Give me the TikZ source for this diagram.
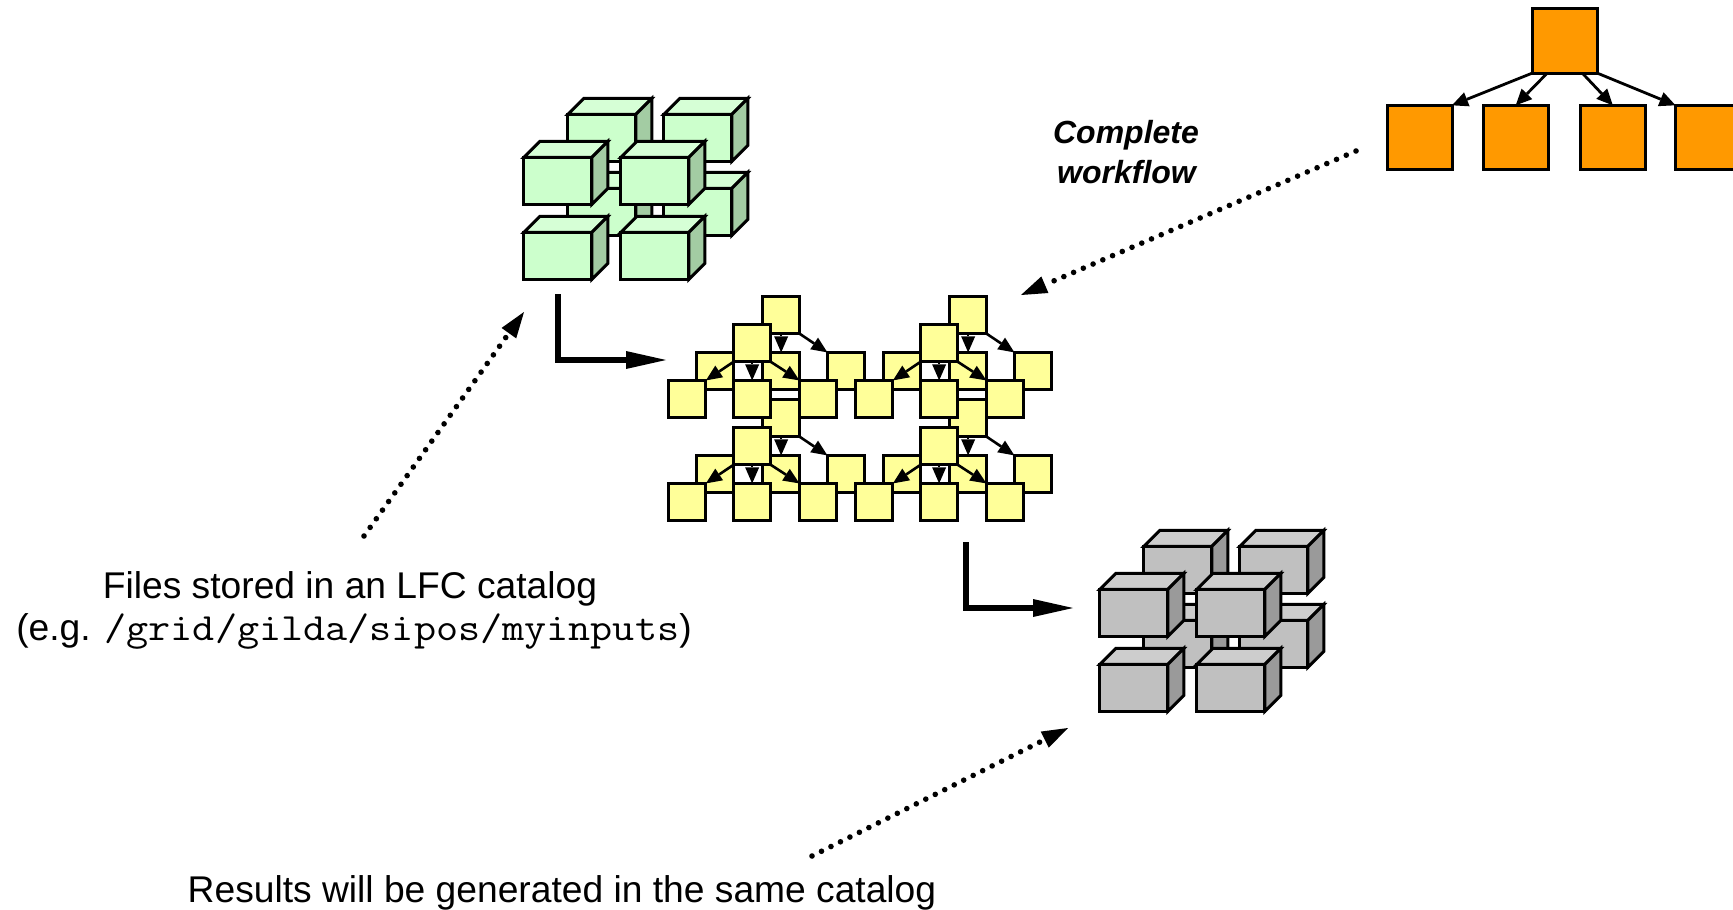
\documentclass[tikz,border=0pt]{standalone}
\usepackage{fontspec}
\usepackage{graphicx}
\setmainfont{Liberation Sans}
\usetikzlibrary{arrows.meta,calc}
\definecolor{gface}{HTML}{CCFFCC}\definecolor{gtop}{HTML}{D6FFD6}\definecolor{gside}{HTML}{A3CCA3}
\definecolor{kface}{HTML}{C0C0C0}\definecolor{ktop}{HTML}{CDCDCD}\definecolor{kside}{HTML}{9A9A9A}
\definecolor{yfill}{HTML}{FFFF99}\definecolor{ofill}{HTML}{FF9900}
\tikzset{
  x=1pt,y=-1pt,
  box/.style={draw=black,line width=3pt,inner sep=0pt,outer sep=0pt,anchor=north west,line join=miter},
  ysq/.style={box,fill=yfill,minimum width=37.5pt,minimum height=37.5pt},
  osq/.style={box,fill=ofill,minimum width=64.5pt,minimum height=64.5pt},
  cubeface/.style={box,minimum width=68pt,minimum height=47pt},
  facet/.style={draw=black,line width=3pt,line join=miter},
  yarrow/.style={line width=2.6pt,-{Triangle[length=16pt,width=14pt,line width=0pt]}},
  oarrow/.style={line width=2.8pt,-{Triangle[length=16pt,width=15pt,line width=0pt]}},
  heavy/.style={line width=6pt,line join=miter,-{Triangle[length=40pt,width=18pt,line width=0pt]}},
  dotted arrow/.style={line width=5.6pt,line cap=round,dash pattern=on 0pt off 10.6pt,-{Triangle[length=26pt,width=18pt,line width=0pt,round=false]}},
  txt/.style={inner sep=0pt,anchor=base,font=\fontsize{37.2}{40}\selectfont},
  btxt/.style={inner sep=0pt,anchor=base,font=\fontsize{32}{36}\selectfont\bfseries\itshape}
}
% #1 name, #2 x, #3 y, #4 face, #5 top, #6 side
\newcommand{\cubebox}[6]{%
  \path[facet,fill=#5] (#2,#3) -- ++(16,-16) -- ++(68,0) -- ++(-16,16) -- cycle;
  \path[facet,fill=#6] (#2+68,#3) -- ++(16,-16) -- ++(0,47) -- ++(-16,16) -- cycle;
  \node[cubeface,fill=#4] (#1) at (#2,#3) {};
}
\newcommand{\cubegroup}[6]{% #1 prefix #2 x #3 y, colours
  \cubebox{#1a}{#2+44}{#3-43}{#4}{#5}{#6}
  \cubebox{#1b}{#2+140}{#3-43}{#4}{#5}{#6}
  \cubebox{#1c}{#2+44}{#3+31}{#4}{#5}{#6}
  \cubebox{#1d}{#2+140}{#3+31}{#4}{#5}{#6}
  \cubebox{#1e}{#2}{#3}{#4}{#5}{#6}
  \cubebox{#1f}{#2+97}{#3}{#4}{#5}{#6}
  \cubebox{#1g}{#2}{#3+75}{#4}{#5}{#6}
  \cubebox{#1h}{#2+97}{#3+75}{#4}{#5}{#6}
}
\newcommand{\yback}[3]{%
  \node[ysq] (#1t) at (#2+94,#3) {};
  \node[ysq] (#1l) at (#2+28,#3+56) {};
  \node[ysq] (#1c) at (#2+94,#3+56) {};
  \node[ysq] (#1r) at (#2+159,#3+56) {};
  \draw[yarrow] (#1t.south) -- (#1c.north);
  \draw[yarrow] (#1t.south east) -- (#1r.north west);
}
\newcommand{\yfront}[3]{%
  \node[ysq] (#1T) at (#2+65,#3+28) {};
  \node[ysq] (#1L) at (#2,#3+84) {};
  \node[ysq] (#1C) at (#2+65,#3+84) {};
  \node[ysq] (#1R) at (#2+131,#3+84) {};
  \draw[yarrow] (#1T.south west) -- (#1L.north east);
  \draw[yarrow] (#1T.south) -- (#1C.north);
  \draw[yarrow] (#1T.south east) -- (#1R.north west);
}
\begin{document}
\begin{tikzpicture}
\useasboundingbox (0,0) rectangle (1733,910);
\clip (0,0) rectangle (1733,910);
% orange workflow
\node[osq] (otop) at (1532.5,8.5) {};
\node[osq] (o1) at (1387.5,105.3) {};
\node[osq] (o2) at (1483.5,105.3) {};
\node[osq] (o3) at (1580.5,105.3) {};
\node[osq] (o4) at (1675.5,105.3) {};
\draw[oarrow] (otop.south west) -- (o1.north east);
\draw[oarrow] ($(otop.south west)!0.23!(otop.south east)$) -- (o2.north);
\draw[oarrow] ($(otop.south west)!0.77!(otop.south east)$) -- (o3.north);
\draw[oarrow] (otop.south east) -- (o4.north west);
% cubes
\cubegroup{g}{523.8}{157.4}{gface}{gtop}{gside}
\cubegroup{k}{1099.8}{589.4}{kface}{ktop}{kside}
% yellow
\yback{ua}{668.4}{296.4}\yback{ub}{855.4}{296.4}\yback{uc}{668.4}{399.4}\yback{ud}{855.4}{399.4}
\yfront{ua}{668.4}{296.4}\yfront{ub}{855.4}{296.4}\yfront{uc}{668.4}{399.4}\yfront{ud}{855.4}{399.4}
% heavy arrows
\coordinate (h1s) at (558,294); \coordinate (h1e) at (666,360);
\coordinate (h2s) at (966,542); \coordinate (h2e) at (1073,608);
\draw[heavy] (h1s) |- (h1e);
\draw[heavy] (h2s) |- (h2e);
% dotted arrows
\coordinate (d1s) at (364,536); \coordinate (d1e) at (524,312);
\coordinate (d2s) at (1356,151); \coordinate (d2e) at (1021,295);
\coordinate (d3s) at (812,856); \coordinate (d3e) at (1068,728);
\draw[dotted arrow] (d1s) -- (d1e);
\draw[dotted arrow] (d2s) -- (d2e);
\draw[dotted arrow] (d3s) -- (d3e);
% text
\node[btxt] (tc1) at (1126,143.5) {Complete};
\node[btxt] (tc2) at (1126.5,183) {workflow};
\node[txt] (tf1) at (350,598) {Files stored in an LFC catalog};
\node[txt] (tf2) at (354,640) {(e.g. \scalebox{1.115}[1]{\fontsize{38.5}{40}\selectfont\ttfamily /grid/gilda/sipos/myinputs})};
\node[txt] (tr) at (562,902) {Results will be generated in the same catalog};
\end{tikzpicture}
\end{document}
